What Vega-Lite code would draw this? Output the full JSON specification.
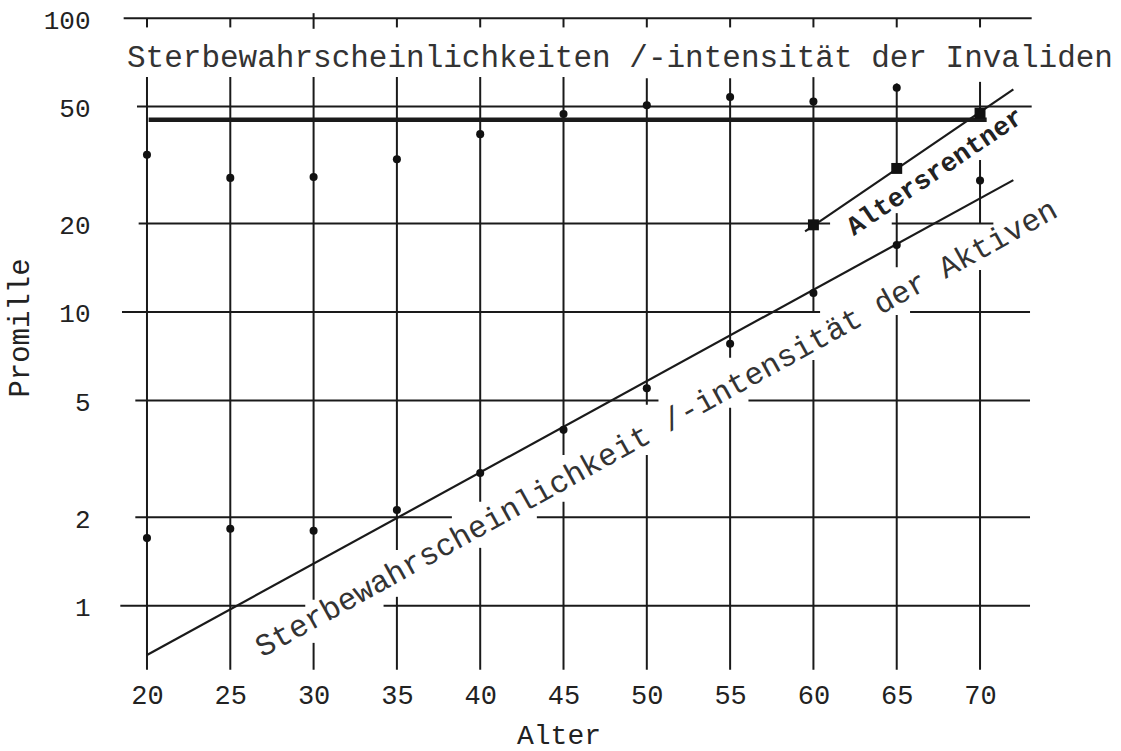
{
  "$schema": "https://vega.github.io/schema/vega-lite/v6.json",
  "width": 983,
  "height": 665,
  "autosize": {"type": "none"},
  "padding": {"left": 97, "top": 6, "right": 41, "bottom": 80},
  "background": "white",
  "config": {
    "view": {"stroke": null},
    "font": "Liberation Mono",
    "axis": {"grid": false, "domain": false, "ticks": false, "labelOverlap": false, "labelFlush": false, "labelFont": "Liberation Mono", "labelColor": "#222", "titleFont": "Liberation Mono", "titleFontWeight": "normal", "titleColor": "#222"}
  },
  "datasets": {
    "hgrid": [
      {"v": 100, "a1": 18.6, "a2": 73.1},
      {"v": 50, "a1": 19.4, "a2": 73.1},
      {"v": 20, "a1": 19.5, "a2": 61.0},
      {"v": 20, "a1": 64.7, "a2": 70.8},
      {"v": 10, "a1": 18.5, "a2": 60.4},
      {"v": 10, "a1": 65.8, "a2": 73.0},
      {"v": 5, "a1": 19.3, "a2": 50.7},
      {"v": 5, "a1": 56.1, "a2": 73.0},
      {"v": 2, "a1": 19.3, "a2": 38.3},
      {"v": 2, "a1": 43.4, "a2": 73.0},
      {"v": 1, "a1": 18.4, "a2": 29.5},
      {"v": 1, "a1": 34.2, "a2": 73.0}
    ],
    "vgrid": [
      {"a": 20, "v1": 0.606, "v2": 63},
      {"a": 25, "v1": 0.606, "v2": 63},
      {"a": 30, "v1": 0.606, "v2": 0.748},
      {"a": 30, "v1": 1.048, "v2": 63},
      {"a": 35, "v1": 0.606, "v2": 1.073},
      {"a": 35, "v1": 1.55, "v2": 63},
      {"a": 40, "v1": 0.606, "v2": 1.575},
      {"a": 40, "v1": 2.26, "v2": 63},
      {"a": 45, "v1": 0.606, "v2": 2.26},
      {"a": 45, "v1": 3.26, "v2": 63},
      {"a": 50, "v1": 0.606, "v2": 3.26},
      {"a": 50, "v1": 4.83, "v2": 62.5},
      {"a": 55, "v1": 0.606, "v2": 4.72},
      {"a": 55, "v1": 6.98, "v2": 62.5},
      {"a": 60, "v1": 0.606, "v2": 6.87},
      {"a": 60, "v1": 10.0, "v2": 63},
      {"a": 65, "v1": 0.606, "v2": 9.77},
      {"a": 65, "v1": 14.2, "v2": 21.7},
      {"a": 65, "v1": 29.9, "v2": 60},
      {"a": 70, "v1": 0.606, "v2": 13.9},
      {"a": 70, "v1": 20.0, "v2": 32.9},
      {"a": 70, "v1": 44.4, "v2": 60.7},
      {"a": 20, "v1": 93, "v2": 100},
      {"a": 25, "v1": 93, "v2": 100},
      {"a": 30, "v1": 92, "v2": 104},
      {"a": 35, "v1": 93, "v2": 100},
      {"a": 40, "v1": 93, "v2": 100},
      {"a": 45, "v1": 93, "v2": 100},
      {"a": 50, "v1": 93, "v2": 100},
      {"a": 55, "v1": 93, "v2": 100},
      {"a": 60, "v1": 93, "v2": 100},
      {"a": 65, "v1": 93, "v2": 100},
      {"a": 70, "v1": 93, "v2": 100}
    ],
    "invalidfit": [
      {"v": 45.1, "a1": 20.1, "a2": 70.4}
    ],
    "fits": [
      {"series": "Aktive", "age": 20, "p": 0.68},
      {"series": "Aktive", "age": 72, "p": 28.1},
      {"series": "Altersrentner", "age": 59.5, "p": 18.8},
      {"series": "Altersrentner", "age": 72, "p": 57.2}
    ],
    "points": [
      {"series": "Invalide", "age": 20, "p": 34.3},
      {"series": "Invalide", "age": 25, "p": 28.6},
      {"series": "Invalide", "age": 30, "p": 28.8},
      {"series": "Invalide", "age": 35, "p": 33.1},
      {"series": "Invalide", "age": 40, "p": 40.3},
      {"series": "Invalide", "age": 45, "p": 47.2},
      {"series": "Invalide", "age": 50, "p": 50.5},
      {"series": "Invalide", "age": 55, "p": 53.9},
      {"series": "Invalide", "age": 60, "p": 52.0},
      {"series": "Invalide", "age": 65, "p": 58.0},
      {"series": "Aktive", "age": 20, "p": 1.70},
      {"series": "Aktive", "age": 25, "p": 1.83},
      {"series": "Aktive", "age": 30, "p": 1.80},
      {"series": "Aktive", "age": 35, "p": 2.12},
      {"series": "Aktive", "age": 40, "p": 2.83},
      {"series": "Aktive", "age": 45, "p": 3.97},
      {"series": "Aktive", "age": 50, "p": 5.5},
      {"series": "Aktive", "age": 55, "p": 7.8},
      {"series": "Aktive", "age": 60, "p": 11.6},
      {"series": "Aktive", "age": 65, "p": 16.9},
      {"series": "Aktive", "age": 70, "p": 28.0},
      {"series": "Altersrentner", "age": 60, "p": 19.8},
      {"series": "Altersrentner", "age": 65, "p": 30.8},
      {"series": "Altersrentner", "age": 70, "p": 47.5}
    ]
  },
  "layer": [
    {
      "data": {"name": "hgrid"},
      "mark": {"type": "rule", "color": "#1a1a1a", "strokeWidth": 2},
      "encoding": {
        "x": {
          "field": "a1", "type": "quantitative",
          "scale": {"domain": [17, 76], "nice": false, "zero": false},
          "axis": {
            "values": [20, 25, 30, 35, 40, 45, 50, 55, 60, 65, 70],
            "labelFontSize": 27, "labelPadding": 11,
            "title": "Alter", "titleFontSize": 28,
            "titleX": 461.5, "titleY": 72, "titleBaseline": "alphabetic", "titleAlign": "center"
          }
        },
        "x2": {"field": "a2"},
        "y": {
          "field": "v", "type": "quantitative",
          "scale": {"type": "log", "domain": [0.6, 110], "nice": false},
          "axis": {
            "values": [1, 2, 5, 10, 20, 50, 100], "format": "d",
            "labelFontSize": 26, "labelPadding": 7, "labelOffset": 2, "labelBaseline": "middle",
            "title": "Promille", "titleFontSize": 29,
            "titleX": -78, "titleY": 321.5, "titleAngle": 270,
            "titleBaseline": "middle", "titleAlign": "center"
          }
        }
      }
    },
    {
      "data": {"name": "vgrid"},
      "mark": {"type": "rule", "color": "#1a1a1a", "strokeWidth": 2},
      "encoding": {
        "x": {"field": "a", "type": "quantitative", "scale": {"domain": [17, 76], "nice": false, "zero": false}},
        "y": {"field": "v1", "type": "quantitative", "scale": {"type": "log", "domain": [0.6, 110], "nice": false}},
        "y2": {"field": "v2"}
      }
    },
    {
      "data": {"name": "invalidfit"},
      "mark": {"type": "rule", "color": "#1a1a1a", "strokeWidth": 4.5},
      "encoding": {
        "x": {"field": "a1", "type": "quantitative", "scale": {"domain": [17, 76], "nice": false, "zero": false}},
        "x2": {"field": "a2"},
        "y": {"field": "v", "type": "quantitative", "scale": {"type": "log", "domain": [0.6, 110], "nice": false}}
      }
    },
    {
      "data": {"name": "fits"},
      "mark": {"type": "line", "color": "#1a1a1a", "strokeWidth": 2.2},
      "encoding": {
        "x": {"field": "age", "type": "quantitative", "scale": {"domain": [17, 76], "nice": false, "zero": false}},
        "y": {"field": "p", "type": "quantitative", "scale": {"type": "log", "domain": [0.6, 110], "nice": false}},
        "detail": {"field": "series", "type": "nominal"}
      }
    },
    {
      "data": {"name": "points"},
      "transform": [{"filter": "datum.series !== 'Altersrentner'"}],
      "mark": {"type": "circle", "color": "#111", "opacity": 1, "size": 65},
      "encoding": {
        "x": {"field": "age", "type": "quantitative", "scale": {"domain": [17, 76], "nice": false, "zero": false}},
        "y": {"field": "p", "type": "quantitative", "scale": {"type": "log", "domain": [0.6, 110], "nice": false}}
      }
    },
    {
      "data": {"name": "points"},
      "transform": [{"filter": "datum.series === 'Altersrentner'"}],
      "mark": {"type": "square", "color": "#111", "opacity": 1, "size": 120},
      "encoding": {
        "x": {"field": "age", "type": "quantitative", "scale": {"domain": [17, 76], "nice": false, "zero": false}},
        "y": {"field": "p", "type": "quantitative", "scale": {"type": "log", "domain": [0.6, 110], "nice": false}}
      }
    },
    {
      "data": {"values": [{"age": 48.39, "p": 68, "label": "Sterbewahrscheinlichkeiten /-intensität der Invaliden"}]},
      "mark": {"type": "text", "font": "Liberation Mono", "fontSize": 31, "color": "#333", "align": "center", "baseline": "alphabetic"},
      "encoding": {
        "x": {"field": "age", "type": "quantitative", "scale": {"domain": [17, 76], "nice": false, "zero": false}},
        "y": {"field": "p", "type": "quantitative", "scale": {"type": "log", "domain": [0.6, 110], "nice": false}},
        "text": {"field": "label"}
      }
    },
    {
      "data": {"values": [{"age": 50.84, "p": 3.76, "label": "Sterbewahrscheinlichkeit /-intensität der Aktiven"}]},
      "mark": {"type": "text", "font": "Liberation Mono", "fontSize": 31, "color": "#333", "align": "center", "baseline": "alphabetic", "angle": 331},
      "encoding": {
        "x": {"field": "age", "type": "quantitative", "scale": {"domain": [17, 76], "nice": false, "zero": false}},
        "y": {"field": "p", "type": "quantitative", "scale": {"type": "log", "domain": [0.6, 110], "nice": false}},
        "text": {"field": "label"}
      }
    },
    {
      "data": {"values": [{"age": 67.57, "p": 28.5, "label": "Altersrentner"}]},
      "mark": {"type": "text", "font": "Liberation Mono", "fontSize": 26.5, "fontWeight": "bold", "color": "#222", "align": "center", "baseline": "alphabetic", "angle": 326},
      "encoding": {
        "x": {"field": "age", "type": "quantitative", "scale": {"domain": [17, 76], "nice": false, "zero": false}},
        "y": {"field": "p", "type": "quantitative", "scale": {"type": "log", "domain": [0.6, 110], "nice": false}},
        "text": {"field": "label"}
      }
    }
  ]
}
